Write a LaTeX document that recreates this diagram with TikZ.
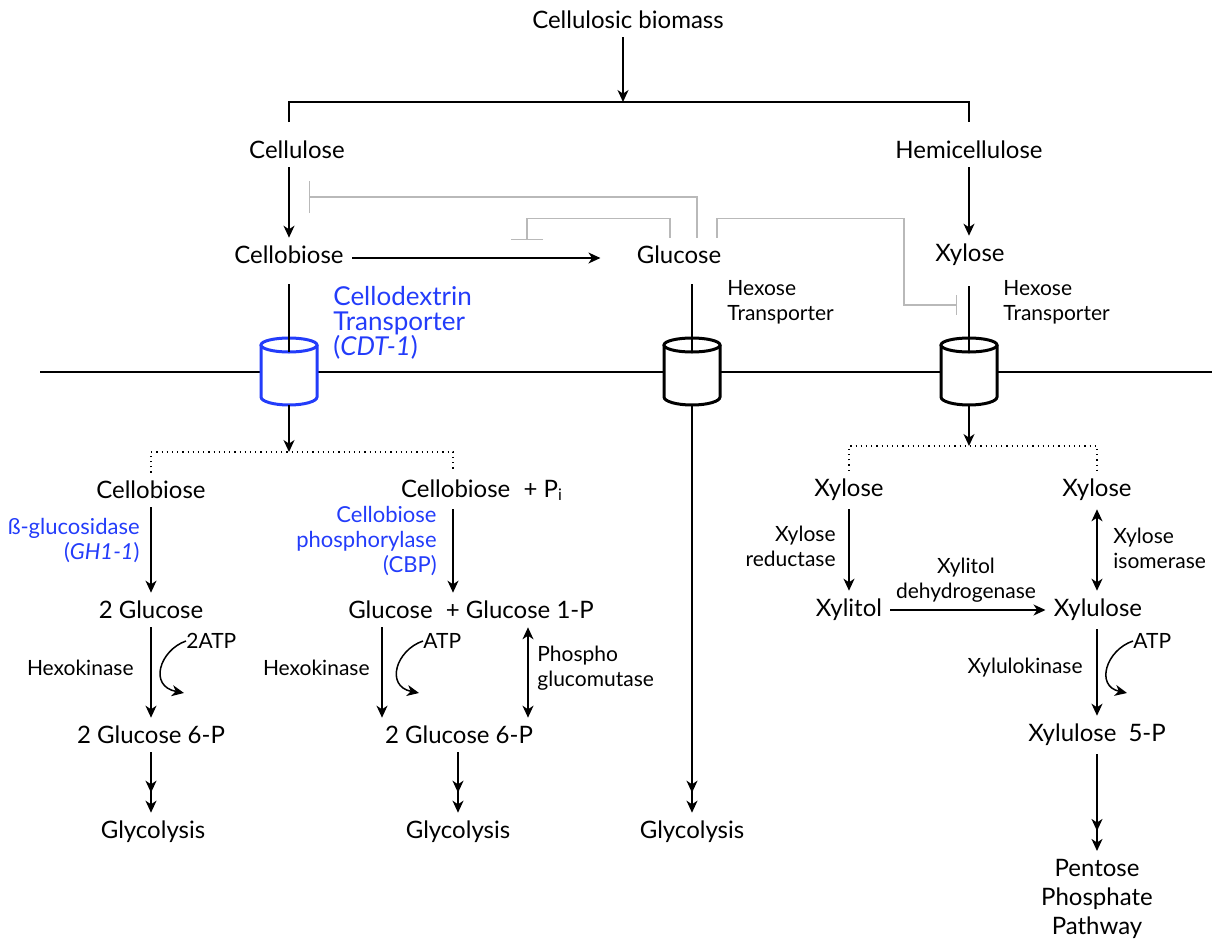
\documentclass[tikz,border=0pt]{standalone}
\usepackage{fontspec}
\setmainfont{Lato}
\usetikzlibrary{arrows.meta, positioning}
\definecolor{enzblue}{RGB}{35,60,250}
\definecolor{inhgray}{RGB}{185,185,185}

\begin{document}
\begin{tikzpicture}[x=0.5pt, y=-0.5pt,
  txt/.style={font=\fontsize{12}{14.5}\selectfont, inner sep=4pt},
  lab/.style={font=\fontsize{10.5}{12.5}\selectfont, inner sep=0pt},
  enz/.style={font=\fontsize{11}{12.5}\selectfont, inner sep=0pt, text=enzblue},
  tipA/.tip={Stealth[length=6pt, width=5.5pt, inset=1.8pt]},
  arr/.style={line width=0.75pt, -tipA},
  dbl/.style={line width=0.75pt, -{tipA[sep=4pt] tipA}},
  both/.style={line width=0.75pt, tipA-tipA},
  inh/.style={inhgray, line width=0.6pt},
  dotline/.style={line width=0.6pt, dotted},
]
\useasboundingbox (0,0) rectangle (1217,943);

% columns
\coordinate (cB) at (623,0);
\coordinate (cA) at (289,0);
\coordinate (cG) at (692,0);
\coordinate (cX) at (969,0);
\coordinate (cL) at (151,0);
\coordinate (cCBP) at (453,0);
\coordinate (cM1) at (382,0);
\coordinate (cM2) at (528,0);
\coordinate (cR1) at (849,0);
\coordinate (cR2) at (1097,0);

% top part
\node[txt] (bio) at (628,20) {Cellulosic biomass};
\node[txt] (cellulose) at (297,150) {Cellulose};
\node[txt] (hemi) at (969,150) {Hemicellulose};
\node[txt] (cbiose) at (289,255) {Cellobiose};
\node[txt] (glc) at (679,255) {Glucose};
\node[txt] (xyl) at (970,255) {Xylose};

\coordinate (split) at (623,102);
\draw[arr] (bio.south -| cB) -- (split);
\draw[line width=0.75pt] (cA |- 0,122) |- (split) -| (cX |- 0,122);
\draw[arr] (cellulose.south -| cA) -- (cbiose.north -| cA);
\draw[arr] (hemi.south -| cX) -- (xyl.north -| cX);
\draw[arr, shorten >=14pt] (cbiose.east |- 0,258) -- (glc.west |- 0,258);

% glucose feedback
\coordinate (inhA) at (309,197);
\coordinate (inhB) at (527,240);
\coordinate (inhC) at (957,305);
\draw[inh, -{Bar[width=16pt]}] (glc.north -| 697,0) |- (inhA);
\draw[inh, -{Bar[width=16pt]}] (glc.north -| 670,0) -- ++(0,-19) -| (inhB);
\draw[inh, -{Bar[width=10pt]}] (glc.north -| 717,0) -- ++(0,-19) -| (904,305) -- (inhC);

% membrane and transporters
\draw[line width=0.75pt] (40,372) -- (1212,372);
\foreach \x/\col in {289/enzblue, 692/black, 969/black} {
  \filldraw[fill=white, draw=\col, line width=1.5pt] (\x-28,345) -- (\x-28,397)
    arc[start angle=180, end angle=360, x radius=14pt, y radius=4pt] -- (\x+28,345);
  \filldraw[fill=white, draw=\col, line width=1.5pt] (\x,345) ellipse [x radius=14pt, y radius=3.5pt];
}
\coordinate (cdttop) at (289,352);
\coordinate (cdtbot) at (289,405);
\coordinate (hexAtop) at (692,352);
\coordinate (hexAbot) at (692,405);
\coordinate (hexBtop) at (969,352);
\coordinate (hexBbot) at (969,405);
\draw[line width=0.75pt, shorten <=6pt] (cbiose.south -| cA) -- (cdttop);
\draw[line width=0.75pt, shorten <=6pt] (glc.south -| cG) -- (hexAtop);
\draw[line width=0.75pt, shorten <=6pt] (xyl.south -| cX) -- (hexBtop);

\node[enz, font=\fontsize{13}{12.4}\selectfont, anchor=west, align=left] (cdtlab) at (333,323) {Cellodextrin\\Transporter\\(\textit{CDT-1})};
\node[lab, anchor=west, align=left] (hexlabA) at (727,302) {Hexose\\Transporter};
\node[lab, anchor=west, align=left] (hexlabB) at (1003,302) {Hexose\\Transporter};

% inside the cell
\coordinate (splitL) at (289,452);
\coordinate (splitR) at (969,446);
\node[txt] (cbioseL) at (151,490) {Cellobiose};
\node[txt] (cbioseP) at (482,490) {Cellobiose\hspace{0.55em}+ P\textsubscript{i}};
\node[txt] (xylA) at (849,490) {Xylose};
\node[txt] (xylB) at (1097,490) {Xylose};
\draw[arr] (cdtbot) -- (splitL);
\draw[arr] (hexBbot) -- (splitR);
\draw[dotline] (cbioseL.north -| cL) |- (splitL) -| (cbioseP.north -| cCBP);
\draw[dotline] (xylA.north -| cR1) |- (splitR) -| (xylB.north -| cR2);

% left branch
\node[txt] (glc2) at (151,610) {2 Glucose};
\node[txt] (g6pL) at (151,735) {2 Glucose 6-P};
\node[txt] (glyL) at (153,832) {Glycolysis};
\draw[arr] (cbioseL.south -| cL) -- (glc2.north -| cL);
\draw[arr] (glc2.south -| cL) -- (g6pL.north -| cL);
\draw[dbl] (g6pL.south -| cL) -- (glyL.north -| cL);
\node[enz, anchor=east, align=right] (bglu) at (140,541) {ß-glucosidase\\(\textit{GH1-1})};
\node[lab, anchor=east] (hkL) at (134,668) {Hexokinase};
\node[lab, anchor=west] (atpL) at (186,641) {2ATP};
\coordinate (atpLend) at (184,693);
\draw[arr] (atpL.west) .. controls (160,650) and (148,686) .. (atpLend);

% middle branch
\node[txt] (glcP) at (471,610) {Glucose\hspace{0.55em}+ Glucose 1-P};
\node[txt] (g6pM) at (459,735) {2 Glucose 6-P};
\node[txt] (glyM) at (458,832) {Glycolysis};
\draw[arr] (cbioseP.south -| cCBP) -- (glcP.north -| cCBP);
\node[enz, anchor=east, align=right] (cbp) at (437,541) {Cellobiose\\phosphorylase\\(CBP)};
\draw[arr] (glcP.south -| cM1) -- (g6pM.north -| cM1);
\draw[both] (glcP.south -| cM2) -- (g6pM.north -| cM2);
\draw[dbl] (g6pM.south -| 458,0) -- (glyM.north -| 458,0);
\node[lab, anchor=east] (hkM) at (370,668) {Hexokinase};
\node[lab, anchor=west] (atpM) at (423,641) {ATP};
\coordinate (atpMend) at (419,693);
\draw[arr] (atpM.west) .. controls (396,650) and (385,686) .. (atpMend);
\node[lab, anchor=west, align=left] (pgm) at (537,668) {Phospho\\glucomutase};

% glucose straight to glycolysis
\node[txt] (glyC) at (692,832) {Glycolysis};
\draw[dbl] (hexAbot) -- (glyC.north -| cG);

% right branch
\node[txt] (xylitol) at (849,610) {Xylitol};
\node[txt] (xlu) at (1098,610) {Xylulose};
\node[txt] (x5p) at (1097,735) {Xylulose\enspace 5-P};
\node[txt, align=center] (ppp) at (1097,899) {Pentose\\Phosphate\\Pathway};
\draw[arr] (xylA.south -| cR1) -- (xylitol.north -| cR1);
\node[lab, anchor=east, align=right] (xr) at (836,546) {Xylose\\reductase};
\draw[arr] (xylitol.east) -- (xlu.west);
\node[lab, anchor=south, align=center] (xdh) at (966,603) {Xylitol\\dehydrogenase};
\draw[both] (xylB.south -| cR2) -- (xlu.north -| cR2);
\node[lab, anchor=west, align=left] (xi) at (1113,548) {Xylose\\isomerase};
\draw[arr] (xlu.south -| cR2) -- (x5p.north -| cR2);
\node[lab, anchor=east] (xk) at (1083,668) {Xylulokinase};
\node[lab, anchor=west] (atpR) at (1133,641) {ATP};
\coordinate (atpRend) at (1127,693);
\draw[arr] (atpR.west) .. controls (1106,650) and (1095,686) .. (atpRend);
\draw[dbl] (x5p.south -| cR2) -- (ppp.north -| cR2);
\end{tikzpicture}
\end{document}
